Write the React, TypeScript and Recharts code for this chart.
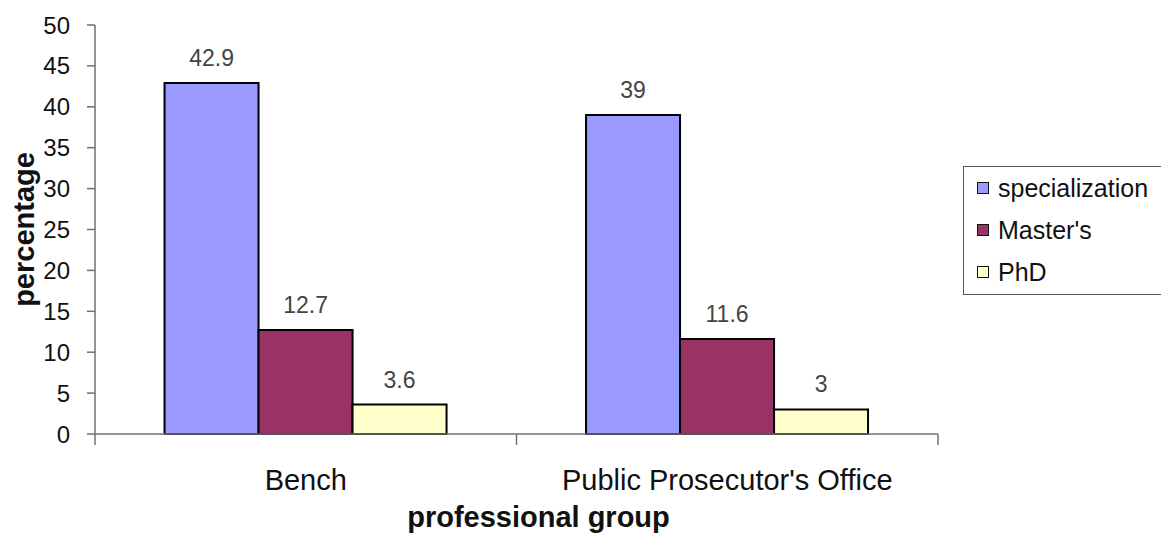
import React from 'react';
import { BarChart, Bar, XAxis, YAxis, Legend, LabelList, Label } from 'recharts';

const groups = ['Bench', "Public Prosecutor's Office"];
const specialization = [42.9, 39];
const masters = [12.7, 11.6];
const phd = [3.6, 3];
const yTicks = [0, 5, 10, 15, 20, 25, 30, 35, 40, 45, 50];

const series = [
  { key: 'specialization', name: 'specialization', color: '#9999ff' },
  { key: 'masters', name: "Master's", color: '#993366' },
  { key: 'phd', name: 'PhD', color: '#ffffcc' },
];

const data = groups.map((g, i) => ({
  group: g,
  specialization: specialization[i],
  masters: masters[i],
  phd: phd[i],
}));

const FONT = '"Liberation Sans", Arial, sans-serif';
const AXIS = '#707070';

const CategoryTick = (props: any) => {
  const { x, y, payload, index, visibleTicksCount } = props;
  const half = payload.offset || 0;
  const last = index === visibleTicksCount - 1;
  return (
    <g>
      <line x1={x - half} y1={y} x2={x - half} y2={y + 11} stroke={AXIS} strokeWidth={1.5} />
      {last && <line x1={x + half} y1={y} x2={x + half} y2={y + 11} stroke={AXIS} strokeWidth={1.5} />}
      <text x={x} y={y + 56} textAnchor="middle" fill="#111" fontSize={29} fontFamily={FONT}>
        {payload.value}
      </text>
    </g>
  );
};

const LegendBox = () => (
  <div
    style={{
      boxSizing: 'border-box',
      width: 200,
      height: 129,
      border: '1.5px solid #555',
      background: '#fff',
      padding: '0 0 0 13px',
      fontFamily: FONT,
      fontSize: 25,
      color: '#111',
    }}
  >
    {series.map((s) => (
      <div key={s.key} style={{ display: 'flex', alignItems: 'center', height: 42 }}>
        <span
          style={{
            display: 'inline-block',
            width: 10,
            height: 10,
            background: s.color,
            border: '1.5px solid #111',
            marginRight: 9,
          }}
        />
        <span>{s.name}</span>
      </div>
    ))}
  </div>
);

const YTitle = (props: any) => {
  const { viewBox } = props;
  const cx = viewBox.x + 24;
  const cy = viewBox.y + viewBox.height / 2;
  return (
    <text
      x={cx}
      y={cy}
      transform={`rotate(-90, ${cx}, ${cy})`}
      textAnchor="middle"
      dominantBaseline="central"
      fontSize={29}
      fontWeight="bold"
      fontFamily={FONT}
      fill="#111"
    >
      percentage
    </text>
  );
};

export default function App() {
  return (
    <div style={{ position: 'absolute', left: 0, top: 0, width: 1161, height: 533, overflow: 'hidden', background: '#fff' }}>
      <BarChart
        width={1161}
        height={533}
        data={data}
        margin={{ top: 25, right: 23, left: 0, bottom: 0 }}
        barCategoryGap="16.5%"
        barGap={0}
      >
        <XAxis
          dataKey="group"
          height={99}
          tickLine={false}
          tickSize={0}
          tickMargin={0}
          axisLine={{ stroke: AXIS, strokeWidth: 1.5 }}
          tick={<CategoryTick />}
          interval={0}
        >
          <Label
            value="professional group"
            position="insideBottom"
            offset={6}
            dx={22}
            style={{ fontSize: 29, fontWeight: 'bold', fontFamily: FONT, fill: '#111' }}
          />
        </XAxis>
        <YAxis
          width={95}
          domain={[0, 50]}
          ticks={yTicks}
          interval={0}
          tickSize={8}
          tickMargin={17}
          axisLine={{ stroke: AXIS, strokeWidth: 1.5 }}
          tickLine={{ stroke: AXIS, strokeWidth: 1.5 }}
          tick={{ fontSize: 24, fill: '#111', fontFamily: FONT }}
        >
          <Label content={<YTitle />} />
        </YAxis>
        <Legend
          layout="vertical"
          align="right"
          verticalAlign="middle"
          width={200}
          wrapperStyle={{ left: 963, top: 166, right: 'auto', width: 200, height: 129 }}
          content={<LegendBox />}
        />
        {series.map((s) => (
          <Bar
            key={s.key}
            dataKey={s.key}
            name={s.name}
            fill={s.color}
            stroke="#000"
            strokeWidth={2}
            isAnimationActive={false}
          >
            <LabelList
              dataKey={s.key}
              position="top"
              offset={17}
              style={{ fontSize: 23, fill: '#444', fontFamily: FONT }}
            />
          </Bar>
        ))}
      </BarChart>
    </div>
  );
}
